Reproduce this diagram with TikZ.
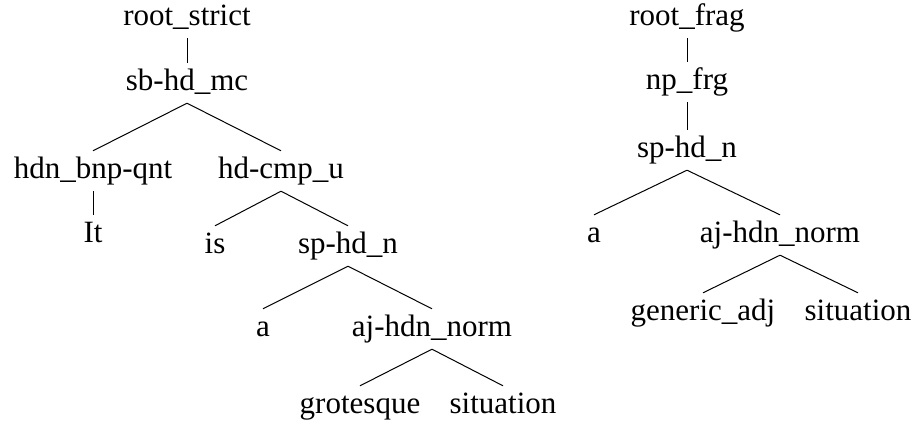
\documentclass[tikz,border=0pt]{standalone}
\usepackage{fontspec}
\setmainfont{Liberation Serif}
\begin{document}
\begin{tikzpicture}[x=1pt,y=-1pt,
  tn/.style={anchor=base,inner xsep=0pt,inner ysep=6pt,text height=21pt,text depth=7pt,font=\fontsize{31}{37}\selectfont},
  br/.style={line width=1pt}]
\useasboundingbox (0,0) rectangle (913,423);
% left tree
\node[tn] (rs) at (187,25) {root\_strict};
\node[tn] (sb) at (187,90) {sb-hd\_mc};
\node[tn] (hdn) at (93,178) {hdn\_bnp-qnt};
\node[tn] (hdc) at (281,178) {hd-cmp\_u};
\node[tn] (it) at (93,242) {It};
\node[tn] (is) at (215,253) {is};
\node[tn] (sph) at (348,253) {sp-hd\_n};
\node[tn] (a1) at (263,336) {a};
\node[tn] (ajh) at (432,336) {aj-hdn\_norm};
\node[tn] (gro) at (360,413) {grotesque};
\node[tn] (sit) at (503,413) {situation};
\draw[br] (rs.south) -- (sb.north);
\draw[br] (sb.south) -- (hdn.north);
\draw[br] (sb.south) -- (hdc.north);
\draw[br] (hdn.south) -- (it.north);
\draw[br] (hdc.south) -- (is.north);
\draw[br] (hdc.south) -- (sph.north);
\draw[br] (sph.south) -- (a1.north);
\draw[br] (sph.south) -- (ajh.north);
\draw[br] (ajh.south) -- (gro.north);
\draw[br] (ajh.south) -- (sit.north);
% right tree
\node[tn] (rf) at (687,25) {root\_frag};
\node[tn] (np) at (687,89) {np\_frg};
\node[tn] (sph2) at (687,157) {sp-hd\_n};
\node[tn] (a2) at (594,242) {a};
\node[tn] (ajh2) at (780,242) {aj-hdn\_norm};
\node[tn] (gen) at (703,320) {generic\_adj};
\node[tn] (sit2) at (858,320) {situation};
\draw[br] (rf.south) -- (np.north);
\draw[br] (np.south) -- (sph2.north);
\draw[br] (sph2.south) -- (a2.north);
\draw[br] (sph2.south) -- (ajh2.north);
\draw[br] (ajh2.south) -- (gen.north);
\draw[br] (ajh2.south) -- (sit2.north);
\end{tikzpicture}
\end{document}
